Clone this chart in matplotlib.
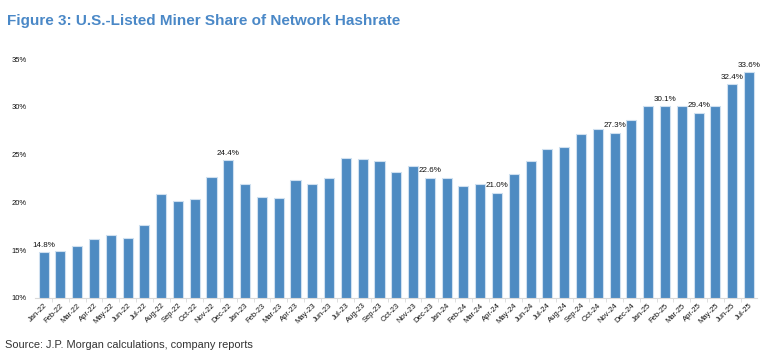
import matplotlib.pyplot as plt
import numpy as np
from matplotlib import ticker

plt.rcParams['font.family'] = ['Liberation Sans', 'DejaVu Sans']

# Monthly data, Jan-22 .. Jul-25
months = ["Jan-22", "Feb-22", "Mar-22", "Apr-22", "May-22", "Jun-22", "Jul-22", "Aug-22",
          "Sep-22", "Oct-22", "Nov-22", "Dec-22", "Jan-23", "Feb-23", "Mar-23", "Apr-23",
          "May-23", "Jun-23", "Jul-23", "Aug-23", "Sep-23", "Oct-23", "Nov-23", "Dec-23",
          "Jan-24", "Feb-24", "Mar-24", "Apr-24", "May-24", "Jun-24", "Jul-24", "Aug-24",
          "Sep-24", "Oct-24", "Nov-24", "Dec-24", "Jan-25", "Feb-25", "Mar-25", "Apr-25",
          "May-25", "Jun-25", "Jul-25"]
share = [14.8, 14.9, 15.4, 16.2, 16.6, 16.3, 17.6, 20.9,
         20.1, 20.4, 22.7, 24.4, 21.9, 20.6, 20.5, 22.3,
         21.9, 22.5, 24.6, 24.5, 24.3, 23.2, 23.8, 22.6,
         22.6, 21.7, 21.9, 21.0, 23.0, 24.3, 25.6, 25.8,
         27.2, 27.7, 27.3, 28.6, 30.1, 30.1, 30.1, 29.4,
         30.1, 32.4, 33.6]
labelled = ["Jan-22", "Dec-22", "Dec-23", "Apr-24", "Nov-24", "Feb-25", "Apr-25", "Jun-25", "Jul-25"]

fig = plt.figure(figsize=(7.65, 3.58), dpi=100)
ax = fig.add_axes([0.046, 0.168, 0.944, 0.667])

x = np.arange(len(months))
bars = ax.bar(x, share, width=0.6, color='#4e8bc2', edgecolor='#cfe0f0', linewidth=0.8)

for i, m in enumerate(months):
    if m in labelled:
        ax.text(i, share[i] + 0.35, f"{share[i]:.1f}%", ha='center', va='bottom',
                fontsize=5.8, color='#111111')

ax.set_xlim(-0.5, len(months) - 0.5)
ax.set_ylim(10, 35)
ax.yaxis.set_major_locator(ticker.MultipleLocator(5))
ax.yaxis.set_major_formatter(ticker.FuncFormatter(lambda v, p: f"{v:.0f}%"))
ax.set_xticks(x)
ax.set_xticklabels(months, rotation=45, ha='right', rotation_mode='anchor', fontsize=5.5)
ax.xaxis.set_minor_locator(ticker.FixedLocator(x[:-1] + 0.5))
ax.tick_params(axis='x', which='major', length=0, pad=3, colors='#111111')
ax.tick_params(axis='x', which='minor', length=3, color='#d9d9d9')
ax.tick_params(axis='y', length=0, labelsize=5.5, pad=6, colors='#111111')

for s in ['top', 'right', 'left']:
    ax.spines[s].set_visible(False)
ax.spines['bottom'].set_color('#d9d9d9')

fig.text(0.009, 0.94, "Figure 3: U.S.-Listed Miner Share of Network Hashrate",
         fontsize=11, fontweight='bold', color='#4a88c7', va='center')
fig.text(0.007, 0.035, "Source: J.P. Morgan calculations, company reports",
         fontsize=7.9, color='#333333', va='center')

fig.savefig("out.png", dpi=100)
